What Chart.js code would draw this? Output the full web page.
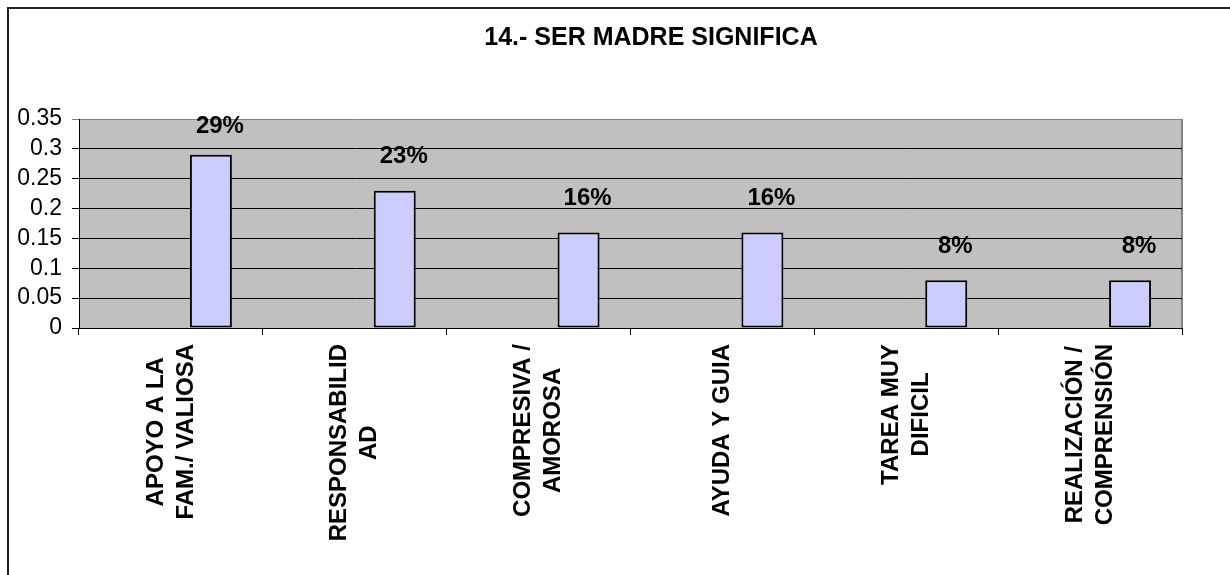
<!DOCTYPE html>
<html lang="es">
<head>
    <meta charset="UTF-8">
    <title>14.- SER MADRE SIGNIFICA</title>
    <script src="https://cdn.jsdelivr.net/npm/chart.js"></script>
    <style>
        body { margin: 0; background: #fff; overflow: hidden; }
        .frame { position: absolute; left: 7px; top: 7px; width: 1400px; height: 700px;
                 border-left: 2px solid #222; border-top: 2px solid #222; }
        #chart { position: absolute; left: 0; top: 0; }
    </style>
</head>
<body>

    <div class="frame"></div>
    <canvas id="chart" width="1230" height="575"></canvas>

    <script>
    const chartTitle = "14.- SER MADRE SIGNIFICA";
    // categorías (líneas de cada etiqueta)
    const categories = [
        ["APOYO A LA", "FAM./ VALIOSA"],
        ["RESPONSABILID", "AD"],
        ["COMPRESIVA /", "AMOROSA"],
        ["AYUDA Y GUIA"],
        ["TAREA MUY", "DIFICIL"],
        ["REALIZACIÓN /", "COMPRENSIÓN"]
    ];
    const values = [0.29, 0.23, 0.16, 0.16, 0.08, 0.08];
    // serie vacía del original (desplaza las barras a la derecha)
    const emptySeries = [null, null, null, null, null, null];
    const yTicks = [0, 0.05, 0.1, 0.15, 0.2, 0.25, 0.3, 0.35];

    const FONT = 'Arial, "Liberation Sans", sans-serif';

    // fondo gris del área de trazado + borde derecho + título
    const plotArea = {
        id: "plotArea",
        beforeDraw(chart) {
            const { ctx, chartArea: a } = chart;
            ctx.save();
            ctx.fillStyle = "#c0c0c0";
            ctx.fillRect(a.left, a.top, a.right - a.left, a.bottom - a.top);
            ctx.strokeStyle = "#808080";
            ctx.lineWidth = 2;
            ctx.beginPath();
            ctx.moveTo(a.right, a.top);
            ctx.lineTo(a.right, a.bottom);
            ctx.stroke();
            // título centrado en el marco (no en el área de trazado)
            ctx.font = "bold 25px " + FONT;
            ctx.fillStyle = "#000";
            ctx.textAlign = "center";
            ctx.textBaseline = "middle";
            ctx.fillText(chartTitle, 651, 38);
            ctx.restore();
        }
    };

    // porcentajes encima de las barras
    const valueLabels = {
        id: "valueLabels",
        afterDatasetsDraw(chart) {
            const { ctx, chartArea: a } = chart;
            const meta = chart.getDatasetMeta(1);
            ctx.save();
            ctx.font = "bold 24px " + FONT;
            ctx.fillStyle = "#000";
            ctx.textAlign = "center";
            ctx.textBaseline = "bottom";
            meta.data.forEach((bar, i) => {
                const y = Math.max(bar.y - 22, a.top + 19);
                ctx.fillText(Math.round(values[i] * 100) + "%", bar.x + 9, y);
            });
            ctx.restore();
        }
    };

    // etiquetas verticales centradas, como en Excel
    const verticalLabels = {
        id: "verticalLabels",
        afterDraw(chart) {
            const { ctx } = chart;
            const x = chart.scales.x;
            const top = x.top + 16;
            ctx.save();
            ctx.font = "bold 24px " + FONT;
            ctx.fillStyle = "#000";
            ctx.textAlign = "center";
            ctx.textBaseline = "middle";
            categories.forEach((lines, i) => {
                const maxW = Math.max(...lines.map(l => ctx.measureText(l).width));
                ctx.save();
                ctx.translate(x.getPixelForValue(i), top + maxW / 2);
                ctx.rotate(-Math.PI / 2);
                lines.forEach((l, j) => ctx.fillText(l, 0, (j - (lines.length - 1) / 2) * 30));
                ctx.restore();
            });
            ctx.restore();
        }
    };

    new Chart(document.getElementById("chart"), {
        type: "bar",
        data: {
            labels: categories,
            datasets: [{
                label: "",
                data: emptySeries
            }, {
                label: "SER MADRE SIGNIFICA",
                data: values,
                backgroundColor: "#ccccff",
                borderColor: "#000",
                borderWidth: 2,
                borderSkipped: false
            }]
        },
        options: {
            responsive: false,
            animation: false,
            categoryPercentage: 0.87,
            barPercentage: 0.525,
            layout: { padding: { left: 0, right: 48, top: 119, bottom: 0 } },
            plugins: {
                legend: { display: false },
                tooltip: { enabled: false },
                title: { display: false }
            },
            scales: {
                x: {
                    offset: true,
                    ticks: { display: false },
                    grid: { offset: true, drawOnChartArea: false, drawTicks: true, tickLength: 7, color: "#000" },
                    border: { color: "#000", width: 1 },
                    afterFit(scale) { scale.height = 575 - 328; }
                },
                y: {
                    min: 0,
                    max: 0.35,
                    afterBuildTicks(scale) { scale.ticks = yTicks.map(v => ({ value: v })); },
                    ticks: {
                        color: "#000",
                        padding: 10,
                        autoSkip: false,
                        font: { family: FONT, size: 23 },
                        callback: v => String(+v.toFixed(2))
                    },
                    grid: {
                        color: ctx => (ctx.tick && ctx.tick.value === 0.35 ? "#808080" : "#000"),
                        tickLength: 7,
                        lineWidth: 1
                    },
                    border: { color: "#000", width: 1 },
                    afterFit(scale) { scale.width = 79; }
                }
            }
        },
        plugins: [plotArea, valueLabels, verticalLabels]
    });
    </script>

</body>
</html>
